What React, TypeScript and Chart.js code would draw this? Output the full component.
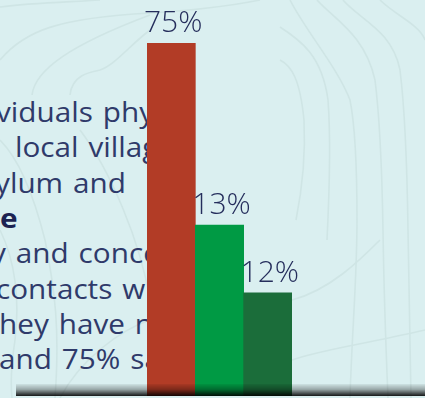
import React, { useEffect, useRef } from "react";
import { Chart, registerables } from "chart.js";

Chart.register(...registerables);

// ---- data ----
const categories = ["Group 1", "Group 2", "Group 3"];
const barValues = [75, 36.3, 21.9];
const valueLabels = ["75%", "13%", "12%"];
const barColors = ["#b23c26", "#009a44", "#1b6d3a"];

const textLines = [
  "viduals physi",
  "local villag",
  "ylum and",
  "e",
  "y and concer",
  "contacts wit",
  "hey have n",
  "and 75% sa",
];
const boldLine = [false, false, false, true, false, false, false, false];
const lineLeft = [-4, 15, -5, 0, -9, -4, -1, -1];

const contourPaths = [
  "M290,0 C305,30 338,68 350,100 C356,130 357,170 357,220 C357,280 352,330 350,398",
  "M317,0 C335,20 365,35 375,80 C380,120 382,170 383,230 C384,300 386,350 388,398",
  "M343,0 C360,20 392,30 400,70 C405,110 407,160 408,230 C409,300 410,350 411,398",
  "M280,27 C300,40 322,55 328,100 C331,140 330,180 327,240",
  "M280,60 C292,66 300,80 304,120 C306,160 302,190 296,220",
  "M380,0 C395,15 420,25 425,40",
  "M0,7 C30,3 70,2 100,0",
  "M0,60 C25,30 60,18 150,13 C200,10 240,4 260,0",
  "M32,95 C35,70 70,45 150,15",
  "M70,95 C72,75 90,72 100,70 C115,65 130,45 150,30",
  "M0,140 C20,160 35,200 45,240 C55,290 60,330 55,398",
  "M0,230 C15,260 20,300 15,340 C12,360 10,380 12,398",
  "M80,130 C110,170 140,240 150,300",
  "M60,398 C80,360 120,330 150,320",
  "M292,300 C330,290 360,260 380,240",
  "M292,360 C320,350 360,345 425,330",
];

function BarChart() {
  const ref = useRef<HTMLCanvasElement | null>(null);
  useEffect(() => {
    if (!ref.current) return;
    const labelPlugin = {
      id: "valueLabels",
      afterDatasetsDraw(chart: any) {
        const ctx = chart.ctx;
        const meta = chart.getDatasetMeta(0);
        ctx.save();
        ctx.font = "300 30px 'Open Sans'";
        ctx.fillStyle = "#252e5c";
        ctx.textAlign = "center";
        ctx.textBaseline = "alphabetic";
        meta.data.forEach((bar: any, i: number) => {
          ctx.fillText(valueLabels[i], bar.x + 2, bar.y - 11);
        });
        ctx.restore();
      },
    };
    const chart = new Chart(ref.current, {
      type: "bar",
      data: {
        labels: categories,
        datasets: [
          {
            data: barValues,
            backgroundColor: barColors,
            borderWidth: 0,
            barPercentage: 1,
            categoryPercentage: 1,
          },
        ],
      },
      options: {
        animation: false,
        responsive: false,
        devicePixelRatio: 1,
        layout: { padding: { left: 147, right: 133, top: 43, bottom: 2 } },
        plugins: { legend: { display: false }, tooltip: { enabled: false } },
        scales: {
          x: { display: false },
          y: { display: false, min: 0, max: 75 },
        },
      },
      plugins: [labelPlugin],
    });
    return () => chart.destroy();
  }, []);
  return (
    <canvas
      ref={ref}
      width={425}
      height={398}
      style={{ position: "absolute", left: 0, top: 0, width: 425, height: 398 }}
    />
  );
}

export default function App() {
  return (
    <div
      style={{
        position: "fixed",
        left: 0,
        top: 0,
        width: 425,
        height: 398,
        overflow: "hidden",
        background: "#daeff0",
      }}
    >
      <svg
        width={425}
        height={398}
        style={{ position: "absolute", left: 0, top: 0 }}
      >
        {contourPaths.map((d, i) => (
          <path key={i} d={d} fill="none" stroke="#cfe5e5" strokeWidth={1.6} />
        ))}
      </svg>
      <div
        style={{
          position: "absolute",
          left: 0,
          top: 0,
          width: 160,
          height: 398,
          overflow: "hidden",
        }}
      >
        {textLines.map((t, i) => (
          <div
            key={i}
            style={{
              position: "absolute",
              left: lineLeft[i],
              top: 123 + i * 35.3 - 30,
              height: 38,
              lineHeight: "38px",
              whiteSpace: "pre",
              fontFamily: "'Open Sans', sans-serif",
              fontSize: 27,
              fontWeight: boldLine[i] ? 700 : 400,
              letterSpacing: 0,
              wordSpacing: 2,
              transform: "scaleX(1.1)",
              transformOrigin: "left center",
              color: boldLine[i] ? "#1c2352" : "#2f3a6a",
            }}
          >
            {t}
          </div>
        ))}
      </div>
      <BarChart />
      <div
        style={{
          position: "absolute",
          left: 16,
          top: 384,
          width: 409,
          height: 12,
          background:
            "linear-gradient(to bottom, rgba(0,0,0,0.05) 0%, rgba(0,0,0,0.3) 45%, rgba(0,0,0,0.9) 100%)",
        }}
      />
    </div>
  );
}
